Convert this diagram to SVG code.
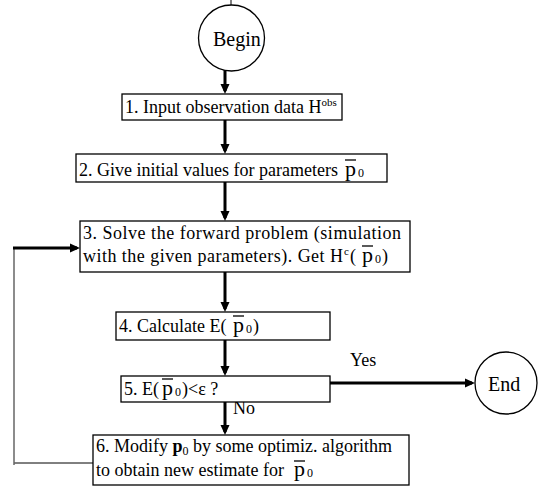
<svg xmlns="http://www.w3.org/2000/svg" width="538" height="487" viewBox="0 0 538 487">
<style>
.box{fill:#fff;stroke:#000;stroke-width:1.3}
.t{font-family:"Liberation Serif","Times New Roman",serif;font-size:18px;fill:#000}
.big{font-size:20px}
.pb{font-size:22px}
.sub{font-size:12px}
.sup{font-size:11px}
.ar{stroke:#000;stroke-width:3;fill:none;marker-end:url(#ah)}
.ob{stroke:#000;stroke-width:1.3}
</style>
<defs>
<marker id="ah" markerUnits="userSpaceOnUse" markerWidth="10" markerHeight="10" refX="7" refY="5" orient="auto">
<path d="M0,0.5 L10,5 L0,9.5 z" fill="#000"/>
</marker>
</defs>
<rect width="538" height="487" fill="#fff"/>
<g id="connectors">
<line x1="231" y1="0" x2="231" y2="6" stroke="#000" stroke-width="1"/>
<line class="ar" x1="225" y1="70" x2="225" y2="91"/>
<line class="ar" x1="225" y1="120" x2="225" y2="151"/>
<line class="ar" x1="225" y1="182" x2="225" y2="218"/>
<line class="ar" x1="225" y1="272" x2="225" y2="309"/>
<line class="ar" x1="225" y1="340" x2="225" y2="373"/>
<line class="ar" x1="225" y1="397" x2="225" y2="432"/>
<line class="ar" x1="330" y1="383" x2="472" y2="383"/>
<line x1="93" y1="463" x2="14" y2="463" stroke="#000" stroke-width="1"/>
<line x1="14" y1="465" x2="14" y2="247" stroke="#666" stroke-width="1.5"/>
<line class="ar" x1="13" y1="248" x2="77" y2="248"/>
<text class="t" x="350" y="366">Yes</text>
<text class="t" x="233" y="414">No</text>
</g>
<g id="begin">
<circle cx="231.5" cy="38" r="33" fill="#fff" stroke="#000" stroke-width="1.3"/>
<text class="t big" x="213" y="46">Begin</text>
</g>
<g id="step1">
<rect class="box" x="122" y="94" width="220" height="26"/>
<text class="t" x="125" y="113">1. Input observation data H<tspan class="sup" dy="-7">obs</tspan></text>
</g>
<g id="step2">
<rect class="box" x="76" y="154" width="311" height="28"/>
<text class="t" x="79" y="176">2. Give initial values for parameters </text>
<text class="t pb" x="345" y="176">p</text><line class="ob" x1="345" y1="160" x2="356" y2="160"/>
<text class="t sub" x="358" y="177">0</text>
</g>
<g id="step3">
<rect class="box" x="80" y="221" width="330" height="51"/>
<text class="t" x="83" y="239" textLength="318" lengthAdjust="spacing">3. Solve the forward problem (simulation</text>
<text class="t" x="83" y="262" textLength="260" lengthAdjust="spacing">with the given parameters). Get H</text>
<text class="t sup" x="344" y="255">c</text>
<text class="t" x="350" y="262">( </text>
<text class="t pb" x="362" y="262">p</text><line class="ob" x1="362" y1="246" x2="373" y2="246"/>
<text class="t sub" x="375" y="263">0</text>
<text class="t" x="382" y="262">)</text>
</g>
<g id="step4">
<rect class="box" x="116" y="312" width="214" height="28"/>
<text class="t" x="119" y="332">4. Calculate E( </text>
<text class="t pb" x="233" y="332">p</text><line class="ob" x1="233" y1="316" x2="244" y2="316"/>
<text class="t sub" x="246" y="333">0</text>
<text class="t" x="253" y="332">)</text>
</g>
<g id="step5">
<rect class="box" x="121" y="376" width="209" height="26"/>
<text class="t" x="124" y="395">5. E( </text>
<text class="t pb" x="162" y="395">p</text><line class="ob" x1="162" y1="379" x2="173" y2="379"/>
<text class="t sub" x="175" y="396">0</text>
<text class="t" x="182" y="395">)&lt;ε ?</text>
</g>
<g id="step6">
<rect class="box" x="93" y="435" width="316" height="50"/>
<text class="t" x="96" y="452">6. Modify <tspan font-weight="bold">p</tspan><tspan class="sub" dy="3">0</tspan><tspan dy="-3"> by some optimiz. algorithm</tspan></text>
<text class="t" x="96" y="476">to obtain new estimate for </text>
<text class="t pb" x="294" y="476">p</text><line class="ob" x1="294" y1="461" x2="305" y2="461"/>
<text class="t sub" x="307" y="477">0</text>
</g>
<g id="end">
<circle cx="506" cy="383" r="31" fill="#fff" stroke="#000" stroke-width="1.3"/>
<text class="t big" x="488" y="391">End</text>
</g>
</svg>
